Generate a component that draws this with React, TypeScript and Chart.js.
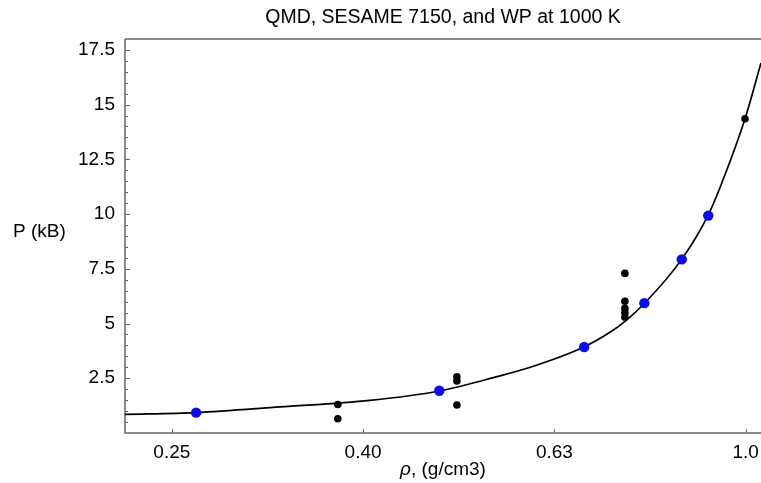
import React, { useEffect, useRef } from "react";
import { Chart, registerables } from "chart.js";

Chart.register(...registerables);

// ---- data ----
const titleText = "QMD, SESAME 7150, and WP at 1000 K";
const yAxisLabel = "P (kB)";
const xAxisSymbol = "ρ";
const xAxisRest = ", (g/cm3)";

const xTickValues = [0.2512, 0.3981, 0.631, 1.0];
const xTickLabels = ["0.25", "0.40", "0.63", "1.0"];
const yTickValues = [2.5, 5, 7.5, 10, 12.5, 15, 17.5];
const yTickLabels = ["2.5", "5", "7.5", "10", "12.5", "15", "17.5"];

// WP (blue) points
const wpRho = [0.2663, 0.4783, 0.678, 0.7837, 0.8575, 0.914];
const wpP = [0.93, 1.93, 3.93, 5.93, 7.93, 9.93];

// QMD (black) points
const qmdRho = [0.3746, 0.3746, 0.499, 0.499, 0.499, 0.7478, 0.7478, 0.7478, 0.7478, 0.7478, 0.9986];
const qmdP = [1.3, 0.65, 2.57, 2.38, 1.28, 7.29, 6.02, 5.69, 5.49, 5.29, 14.35];

// SESAME 7150 curve
const sesRho = [0.2244, 0.2663, 0.326, 0.4048, 0.4781, 0.5449, 0.5998, 0.6776, 0.7214, 0.748, 0.785, 0.8574, 0.9141, 0.9401, 0.9986, 1.0378];
const sesP = [0.85, 0.93, 1.19, 1.49, 1.92, 2.53, 3.05, 3.93, 4.6, 5.1, 5.95, 7.93, 9.96, 11.2, 14.35, 16.9];

const X_MIN = 0.2244;
const X_MAX = 1.0378;
const Y_MIN = 0;
const Y_MAX = 18;

const FONT = "'Liberation Sans', Arial, Helvetica, sans-serif";

const framePlugin = {
  id: "frameTicks",
  beforeDatasetsDraw(chart: any) {
    const { ctx, chartArea } = chart;
    const xs = chart.scales.x;
    const ys = chart.scales.y;
    ctx.save();
    ctx.strokeStyle = "#666";
    ctx.lineWidth = 1.5;
    ctx.beginPath();
    ctx.moveTo(chartArea.left, chartArea.top);
    ctx.lineTo(chartArea.right, chartArea.top);
    ctx.moveTo(chartArea.left, chartArea.top);
    ctx.lineTo(chartArea.left, chartArea.bottom);
    ctx.lineTo(chartArea.right, chartArea.bottom);
    ctx.stroke();
    ctx.lineWidth = 1;
    ctx.beginPath();
    for (let i = 1; i * 0.5 < Y_MAX; i++) {
      const v = i * 0.5;
      const py = Math.round(ys.getPixelForValue(v)) + 0.5;
      const major = yTickValues.indexOf(v) >= 0;
      ctx.moveTo(chartArea.left, py);
      ctx.lineTo(chartArea.left + (major ? 5 : 3), py);
    }
    for (const v of xTickValues) {
      const px = Math.round(xs.getPixelForValue(v)) + 0.5;
      ctx.moveTo(px, chartArea.bottom);
      ctx.lineTo(px, chartArea.bottom - 4);
    }
    ctx.stroke();
    ctx.restore();
  },
  afterDraw(chart: any) {
    const { ctx, chartArea } = chart;
    ctx.save();
    ctx.fillStyle = "#000";
    ctx.textBaseline = "middle";
    ctx.textAlign = "left";
    ctx.font = `19px ${FONT}`;
    ctx.fillText(yAxisLabel, 13, 232);
    const cx = (chartArea.left + chartArea.right) / 2;
    ctx.font = `italic 19px ${FONT}`;
    const w1 = ctx.measureText(xAxisSymbol).width;
    ctx.font = `19px ${FONT}`;
    const w2 = ctx.measureText(xAxisRest).width;
    const start = cx - (w1 + w2) / 2;
    ctx.font = `italic 19px ${FONT}`;
    ctx.fillText(xAxisSymbol, start, 470);
    ctx.font = `19px ${FONT}`;
    ctx.fillText(xAxisRest, start + w1, 470);
    ctx.restore();
  },
};

export default function App() {
  const ref = useRef<HTMLCanvasElement>(null);
  useEffect(() => {
    if (!ref.current) return;
    const chart = new Chart(ref.current, {
      type: "scatter",
      data: {
        datasets: [
          {
            label: "SESAME 7150",
            data: sesRho.map((x, i) => ({ x, y: sesP[i] })),
            showLine: true,
            borderColor: "#000",
            borderWidth: 1.7,
            pointRadius: 0,
            cubicInterpolationMode: "monotone",
            order: 3,
          },
          {
            label: "QMD",
            data: qmdRho.map((x, i) => ({ x, y: qmdP[i] })),
            backgroundColor: "#000",
            borderWidth: 0,
            pointRadius: 3.8,
            order: 2,
          },
          {
            label: "WP",
            data: wpRho.map((x, i) => ({ x, y: wpP[i] })),
            backgroundColor: "#0a0af5",
            borderWidth: 0,
            pointRadius: 5.2,
            order: 1,
          },
        ],
      },
      options: {
        animation: false,
        responsive: true,
        maintainAspectRatio: false,
        layout: { padding: 0, autoPadding: false },
        plugins: {
          legend: { display: false },
          tooltip: { enabled: false },
          title: {
            display: true,
            text: titleText,
            fullSize: false,
            color: "#000",
            font: { family: FONT, size: 19.5, weight: "normal" },
            padding: { top: 6, bottom: 9.5 },
          },
        },
        scales: {
          x: {
            type: "logarithmic",
            bounds: "data",
            min: X_MIN,
            max: X_MAX,
            afterBuildTicks: (s: any) => {
              s.ticks = xTickValues.map((v) => ({ value: v }));
            },
            afterDataLimits: (s: any) => {
              s.min = X_MIN;
              s.max = X_MAX;
            },
            afterFit: (s: any) => {
              s.height = 50;
              s.paddingLeft = 0;
              s.paddingRight = 0;
            },
            grid: { display: false, drawTicks: false },
            border: { display: false },
            ticks: {
              autoSkip: false,
              maxRotation: 0,
              padding: 8,
              color: "#000",
              font: { family: FONT, size: 19 },
              callback: (_v: any, i: number) => xTickLabels[i],
            },
          },
          y: {
            type: "linear",
            min: Y_MIN,
            max: Y_MAX,
            afterBuildTicks: (s: any) => {
              s.ticks = yTickValues.map((v) => ({ value: v }));
            },
            afterFit: (s: any) => {
              s.width = 125;
              s.paddingTop = 0;
              s.paddingBottom = 0;
            },
            grid: { display: false, drawTicks: false },
            border: { display: false },
            ticks: {
              autoSkip: false,
              padding: 10,
              color: "#000",
              font: { family: FONT, size: 19 },
              callback: (_v: any, i: number) => yTickLabels[i],
            },
          },
        },
      },
      plugins: [framePlugin],
    } as any);
    return () => chart.destroy();
  }, []);
  return (
    <div style={{ position: "fixed", left: 0, top: 0, width: 761, height: 483, background: "#fff" }}>
      <canvas ref={ref} />
    </div>
  );
}
